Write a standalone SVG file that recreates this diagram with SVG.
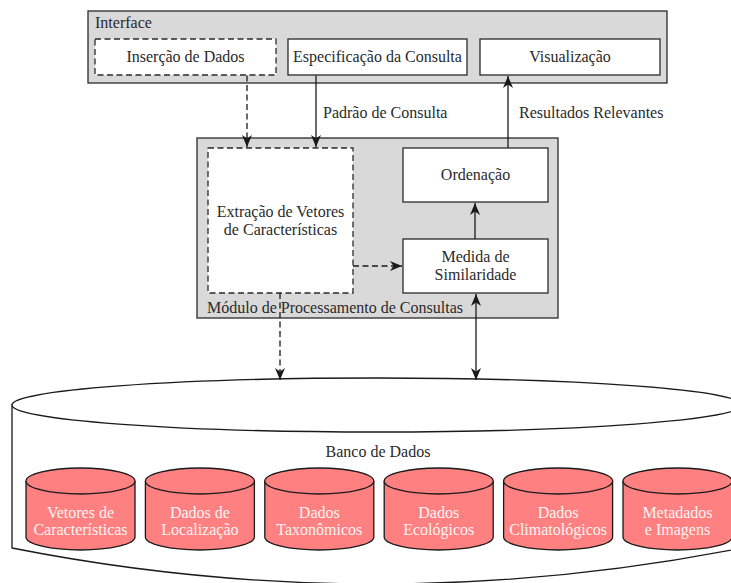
<svg xmlns="http://www.w3.org/2000/svg" width="731" height="583" viewBox="0 0 731 583">
  <style>
    text { font-family: "Liberation Serif", "Times New Roman", serif; font-size: 16px; fill: #2a2a2a; }
    .mid { text-anchor: middle; }
    .panel { fill: #d9d9d9; stroke: #2a2a2a; stroke-width: 1.3; }
    .box { fill: #ffffff; stroke: #2a2a2a; stroke-width: 1.3; }
    .dbox { fill: #ffffff; stroke: #2a2a2a; stroke-width: 1.3; stroke-dasharray: 6 3.5; }
    .wire { fill: none; stroke: #1a1a1a; stroke-width: 1.3; }
    .dash { stroke-dasharray: 6 3.5; }
    .db { fill: #ffffff; stroke: #1a1a1a; stroke-width: 1.3; }
    .cyl { fill: #ff8080; stroke: #1a1a1a; stroke-width: 1.3; }
    .cyltext { fill: #fff4f4; text-anchor: middle; }
  </style>
  <defs>
    <marker id="head" markerUnits="userSpaceOnUse" markerWidth="13" markerHeight="11" refX="12" refY="5.5" orient="auto-start-reverse">
      <path d="M0,0.5 L12,5.5 L0,10.5 L3.5,5.5 z" fill="#1a1a1a"/>
    </marker>
    <!-- one data store: top ellipse center at (0,0) -->
    <g id="store">
      <path class="cyl" d="M-54.5,0 V56 A54.5,13 0 0 0 54.5,56 V0"/>
      <ellipse class="cyl" cx="0" cy="0" rx="54.5" ry="13"/>
    </g>
  </defs>

  <!-- Interface layer -->
  <g id="interface">
    <rect class="panel" x="88" y="11" width="579" height="72"/>
    <text x="95" y="28">Interface</text>
  </g>
  <g id="insercao">
    <rect class="dbox" x="95" y="39" width="181" height="36"/>
    <text class="mid" x="185.5" y="62">Inserção de Dados</text>
  </g>
  <g id="especificacao">
    <rect class="box" x="288" y="39" width="179" height="36"/>
    <text class="mid" x="377.5" y="62">Especificação da Consulta</text>
  </g>
  <g id="visualizacao">
    <rect class="box" x="480" y="39" width="180" height="36"/>
    <text class="mid" x="570" y="62">Visualização</text>
  </g>

  <!-- Query processing module -->
  <g id="modulo">
    <rect class="panel" x="197" y="138" width="361" height="180"/>
    <text x="207" y="313">Módulo de Processamento de Consultas</text>
  </g>
  <g id="extracao">
    <rect class="dbox" x="208" y="148" width="145" height="145"/>
    <text class="mid" x="280.5" y="217">Extração de Vetores</text>
    <text class="mid" x="280.5" y="235">de Características</text>
  </g>
  <g id="ordenacao">
    <rect class="box" x="403" y="148" width="145" height="54"/>
    <text class="mid" x="475.5" y="180">Ordenação</text>
  </g>
  <g id="similaridade">
    <rect class="box" x="403" y="239" width="145" height="54"/>
    <text class="mid" x="475.5" y="262">Medida de</text>
    <text class="mid" x="475.5" y="280">Similaridade</text>
  </g>

  <!-- Database -->
  <g id="banco">
    <path class="db" d="M12,405 V548 Q377,620 742,548 V405 z"/>
    <ellipse class="db" cx="377" cy="405" rx="365" ry="27"/>
    <text class="mid" x="378" y="457">Banco de Dados</text>
  </g>
  <g id="vetores">
    <use href="#store" x="80.5" y="481"/>
    <text class="cyltext" x="80.5" y="518">Vetores de</text>
    <text class="cyltext" x="80.5" y="535">Características</text>
  </g>
  <g id="localizacao">
    <use href="#store" x="199.9" y="481"/>
    <text class="cyltext" x="199.9" y="518">Dados de</text>
    <text class="cyltext" x="199.9" y="535">Localização</text>
  </g>
  <g id="taxonomicos">
    <use href="#store" x="319.3" y="481"/>
    <text class="cyltext" x="319.3" y="518">Dados</text>
    <text class="cyltext" x="319.3" y="535">Taxonômicos</text>
  </g>
  <g id="ecologicos">
    <use href="#store" x="438.7" y="481"/>
    <text class="cyltext" x="438.7" y="518">Dados</text>
    <text class="cyltext" x="438.7" y="535">Ecológicos</text>
  </g>
  <g id="climatologicos">
    <use href="#store" x="558.1" y="481"/>
    <text class="cyltext" x="558.1" y="518">Dados</text>
    <text class="cyltext" x="558.1" y="535">Climatológicos</text>
  </g>
  <g id="metadados">
    <use href="#store" x="677.5" y="481"/>
    <text class="cyltext" x="677.5" y="518">Metadados</text>
    <text class="cyltext" x="677.5" y="535">e Imagens</text>
  </g>

  <!-- Connectors -->
  <g id="connectors">
    <path class="wire dash" d="M247,75.5 V147" marker-end="url(#head)"/>
    <path class="wire" d="M316,75.5 V147" marker-end="url(#head)"/>
    <text x="323" y="118">Padrão de Consulta</text>
    <path class="wire" d="M508,148 V76" marker-end="url(#head)"/>
    <text x="519" y="118">Resultados Relevantes</text>
    <path class="wire" d="M475,239 V203" marker-end="url(#head)"/>
    <path class="wire dash" d="M353,266 H402" marker-end="url(#head)"/>
    <path class="wire dash" d="M280,293 V380" marker-end="url(#head)"/>
    <path class="wire" d="M476,294 V380" marker-start="url(#head)" marker-end="url(#head)"/>
  </g>
</svg>
